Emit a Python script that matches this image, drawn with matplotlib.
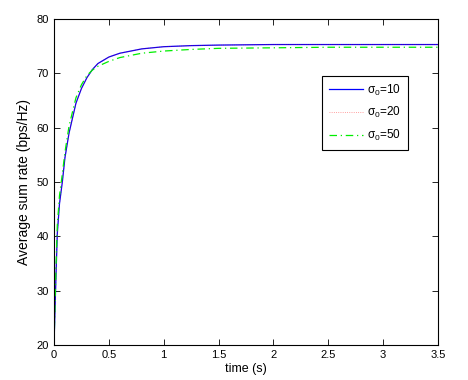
import numpy as np
import matplotlib.pyplot as plt
from matplotlib import rcParams

rcParams.update({
    "font.family": ["Liberation Sans", "DejaVu Sans"], "font.size": 8,
    "axes.linewidth": 0.8, "mathtext.fontset": "custom",
    "mathtext.rm": "Liberation Sans",
})

# --- values ------------------------------------------------------------------
t10 = [0, 0.01, 0.02, 0.03, 0.05, 0.076, 0.1, 0.137, 0.2, 0.25, 0.3, 0.35,
       0.4, 0.5, 0.6, 0.8, 1.0, 1.25, 1.5, 2.0, 2.5, 3.0, 3.5]
r10 = [20, 27, 34, 40.5, 46, 50, 54.5, 59, 64.5, 67.2, 69.2, 70.7,
       71.8, 73, 73.7, 74.5, 74.9, 75.1, 75.2, 75.3, 75.3, 75.3, 75.3]

t20 = t10
r20 = r10

t50 = [0, 0.01, 0.02, 0.03, 0.05, 0.076, 0.1, 0.137, 0.2, 0.25, 0.3, 0.35,
       0.4, 0.5, 0.6, 0.8, 1.0, 1.25, 1.5, 2.0, 2.5, 3.0, 3.5]
r50 = [20, 28, 35.5, 42, 47.5, 51.5, 55.5, 60.3, 65.5, 67.9, 69.6, 70.6,
       71.3, 72.2, 72.9, 73.7, 74.1, 74.4, 74.6, 74.7, 74.8, 74.8, 74.8]

xticks = [0, 0.5, 1, 1.5, 2, 2.5, 3, 3.5]
yticks = [20, 30, 40, 50, 60, 70, 80]

fig = plt.figure(figsize=(4.68, 3.8), dpi=100)
ax = fig.add_axes([54 / 468, 35 / 380, 384 / 468, 326 / 380])

ax.plot(t10, r10, color="#0000ff", lw=0.9, label="σ$_0$=10")
ax.plot(t20, r20, color="#ff0000", lw=0.6, ls=":", alpha=0.5, label="σ$_0$=20")
ax.plot(t50, r50, color="#00ee00", lw=0.9, ls="-.", dashes=(6, 3, 1, 3),
        label="σ$_0$=50")

ax.set_xlim(0, 3.5)
ax.set_ylim(20, 80)
ax.set_xticks(xticks)
ax.set_xticklabels(["0", "0.5", "1", "1.5", "2", "2.5", "3", "3.5"])
ax.set_yticks(yticks)
ax.tick_params(direction="in", top=True, right=True, length=4, width=0.6,
               labelsize=8)
ax.set_xlabel("time (s)", fontsize=9, labelpad=2)
ax.set_ylabel("Average sum rate (bps/Hz)", fontsize=10, labelpad=4)

leg = ax.legend(loc="upper left", bbox_to_anchor=(0.698, 0.825), fancybox=False,
                edgecolor="black", framealpha=1, fontsize=8.5,
                handlelength=2.9, handletextpad=0.4, borderpad=0.55,
                labelspacing=0.65, borderaxespad=0)
leg.get_frame().set_linewidth(0.8)

fig.savefig("out.png", dpi=100)
